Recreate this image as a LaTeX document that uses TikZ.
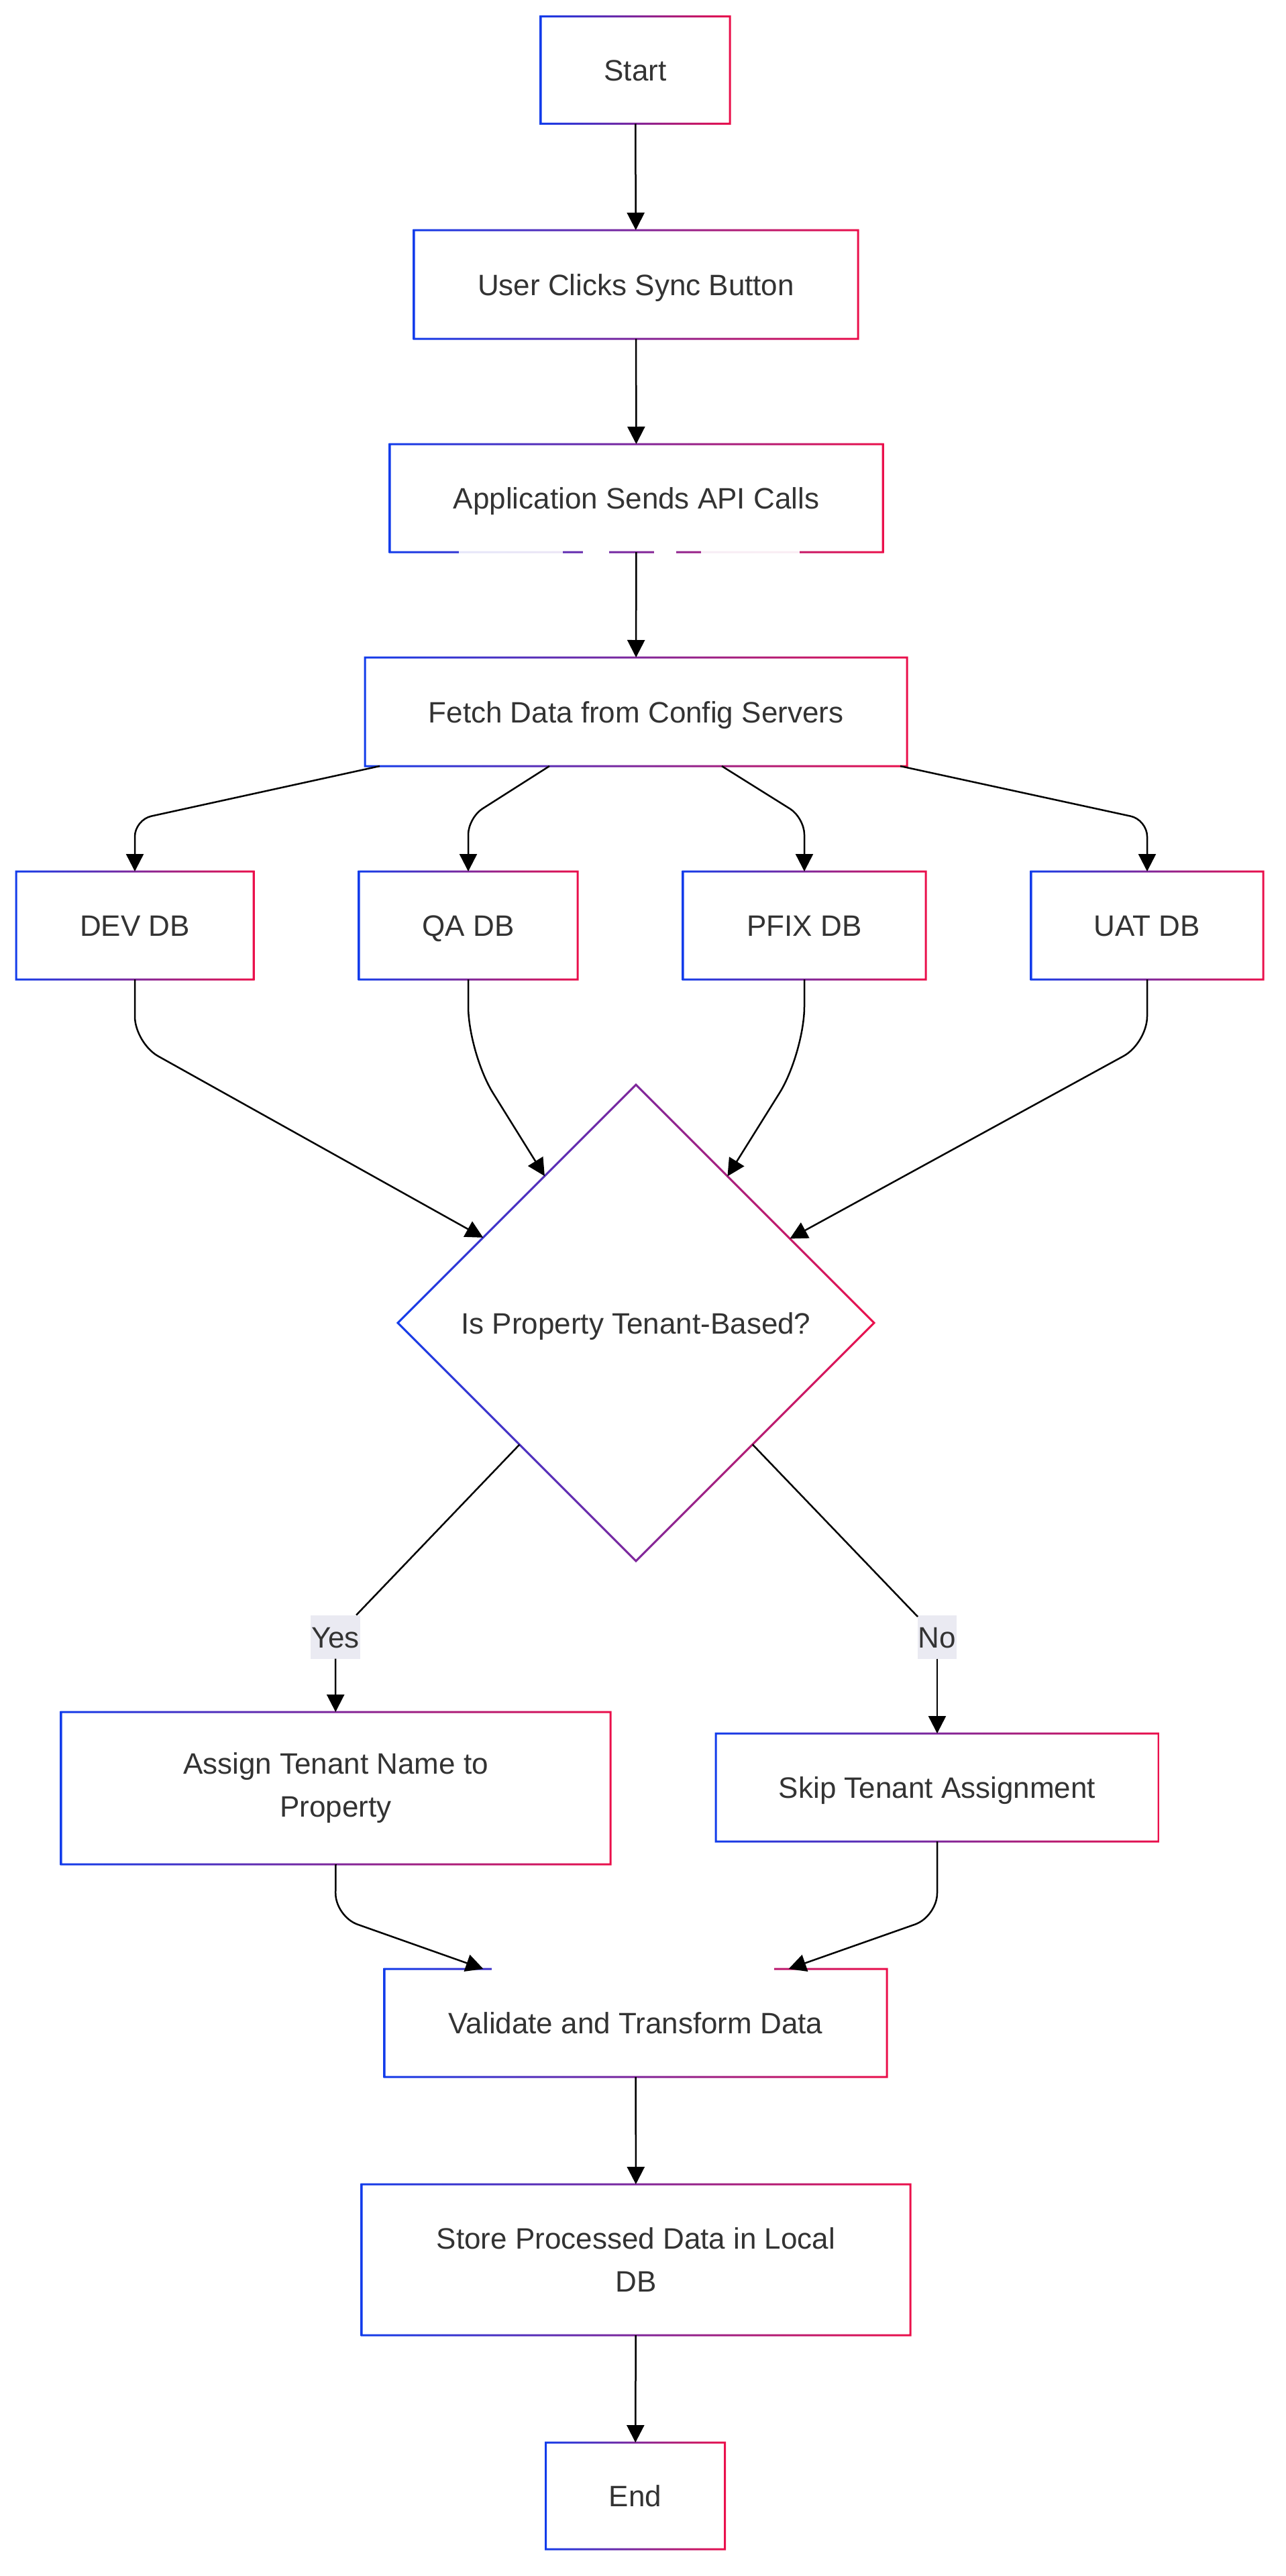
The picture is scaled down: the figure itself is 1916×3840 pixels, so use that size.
\documentclass[tikz,border=0pt]{standalone}
\usepackage{fontspec}
\setmainfont{Liberation Sans}
\usetikzlibrary{shapes.geometric,arrows.meta}
\definecolor{gB}{RGB}{18,60,235}
\definecolor{gR}{RGB}{235,16,75}
\definecolor{txt}{RGB}{51,51,51}
\definecolor{lblbg}{RGB}{234,234,242}
\newcommand\gframe[1]{%
  \shade[left color=gB,right color=gR,even odd rule]
    ([xshift=-1.5pt,yshift=1.5pt]#1.north west) rectangle ([xshift=1.5pt,yshift=-1.5pt]#1.south east)
    ([xshift=1.5pt,yshift=-1.5pt]#1.north west) rectangle ([xshift=-1.5pt,yshift=1.5pt]#1.south east);}
\begin{document}
\begin{tikzpicture}[x=1pt,y=-1pt,
  box/.style={rectangle,inner sep=0pt,outer sep=0pt,align=center,text=txt,
    font=\fontsize{44}{64}\selectfont},
  oneline/.style={text height=32pt,text depth=0pt},
  lbl/.style={rectangle,inner sep=0pt,outer sep=0pt,fill=lblbg,text=txt,
    font=\fontsize{44}{64}\selectfont,minimum height=65pt,text height=32pt,text depth=0pt},
  conn/.style={draw=black,line width=2.5pt,-{Triangle[length=26pt,width=26pt]}},
  plainline/.style={draw=black,line width=2.5pt}]
\fill[white] (0,0) rectangle (1916,3840);
\useasboundingbox (0,0) rectangle (1916,3840);

% nodes
\node[box,oneline,minimum width=282pt,minimum height=160pt] (start) at (947,104.5) {Start};
\node[box,oneline,minimum width=662pt,minimum height=162pt] (user) at (948,424) {User Clicks Sync Button};
\node[box,oneline,minimum width=735pt,minimum height=161pt] (app) at (948.5,742.5) {Application Sends API Calls};
\node[box,oneline,minimum width=808pt,minimum height=162pt] (fetch) at (948,1061) {Fetch Data from Config Servers};
\node[box,oneline,minimum width=354pt,minimum height=161pt] (dev) at (201,1379.5) {DEV DB};
\node[box,oneline,minimum width=326pt,minimum height=161pt] (qa) at (698,1379.5) {QA DB};
\node[box,oneline,minimum width=362pt,minimum height=161pt] (pfix) at (1199,1379.5) {PFIX DB};
\node[box,oneline,minimum width=346pt,minimum height=161pt] (uat) at (1710,1379.5) {UAT DB};
\node[box,oneline,shape=diamond,aspect=1,minimum width=710pt,minimum height=710pt] (dia) at (948,1972) {Is Property Tenant-Based?};
\node[box,minimum width=819pt,minimum height=227pt] (assign) at (500.5,2665.5) {Assign Tenant Name to\\Property};
\node[box,oneline,minimum width=660pt,minimum height=161pt] (skip) at (1397,2664.5) {Skip Tenant Assignment};
\node[box,oneline,minimum width=749pt,minimum height=161pt] (valid) at (947.5,3015.5) {Validate and Transform Data};
\node[box,minimum width=818pt,minimum height=225pt] (store) at (948,3368.5) {Store Processed Data in Local\\DB};
\node[box,oneline,minimum width=267pt,minimum height=159pt] (end) at (947,3720.5) {End};

% gradient borders
\foreach \n in {start,user,app,fetch,dev,qa,pfix,uat,assign,skip,valid,store,end}{\gframe{\n}}
\shade[left color=gB,right color=gR,even odd rule]
  ([yshift=2.1pt]dia.north) -- ([xshift=2.1pt]dia.east) -- ([yshift=-2.1pt]dia.south) -- ([xshift=-2.1pt]dia.west) -- cycle
  ([yshift=-2.1pt]dia.north) -- ([xshift=-2.1pt]dia.east) -- ([yshift=2.1pt]dia.south) -- ([xshift=2.1pt]dia.west) -- cycle;

% gaps in borders as seen in the reference
\fill[white,fill opacity=0.88] (684,818) rectangle (839,827);
\fill[white] (869,818) rectangle (908,827);
\fill[white] (975,818) rectangle (1008,827);
\fill[white,fill opacity=0.92] (1045,818) rectangle (1192,827);
\fill[white] (733,2930) rectangle (1154,2940);

% labels
\node[lbl,minimum width=74pt] (yes) at (500,2440) {Yes};
\node[lbl,minimum width=58pt] (no) at (1397,2440) {No};

% connectors
\draw[conn] (start) -- (user);
\draw[conn] (user) -- (app);
\draw[conn] (app) -- (fetch);
\draw[conn,rounded corners=25pt] ([xshift=22pt]fetch.south west) -- (201,1222) -- (dev.north);
\draw[conn,rounded corners=25pt] ([xshift=275pt]fetch.south west) -- (698,1219) -- (qa.north);
\draw[conn,rounded corners=25pt] ([xshift=-276pt]fetch.south east) -- (1199,1219) -- (pfix.north);
\draw[conn,rounded corners=25pt] ([xshift=-10pt]fetch.south east) -- (1710,1222) -- (uat.north);
\draw[conn,rounded corners=40pt] (dev.south) -- (201,1555) -- (dia);
\draw[conn,rounded corners=70pt] (qa.south) -- (698,1570) -- (dia);
\draw[conn,rounded corners=70pt] (pfix.south) -- (1199,1570) -- (dia);
\draw[conn,rounded corners=40pt] (uat.south) -- (1710,1555) -- (dia);
\draw[plainline] (dia) -- (yes);
\draw[conn] (yes) -- (assign);
\draw[plainline] (dia) -- (no);
\draw[conn] (no) -- (skip);
\draw[conn,rounded corners=35pt] (assign.south) -- (500,2857) -- (valid);
\draw[conn,rounded corners=35pt] (skip.south) -- (1397,2857) -- (valid);
\draw[conn] (valid) -- (store);
\draw[conn] (store) -- (end);
\end{tikzpicture}
\end{document}
